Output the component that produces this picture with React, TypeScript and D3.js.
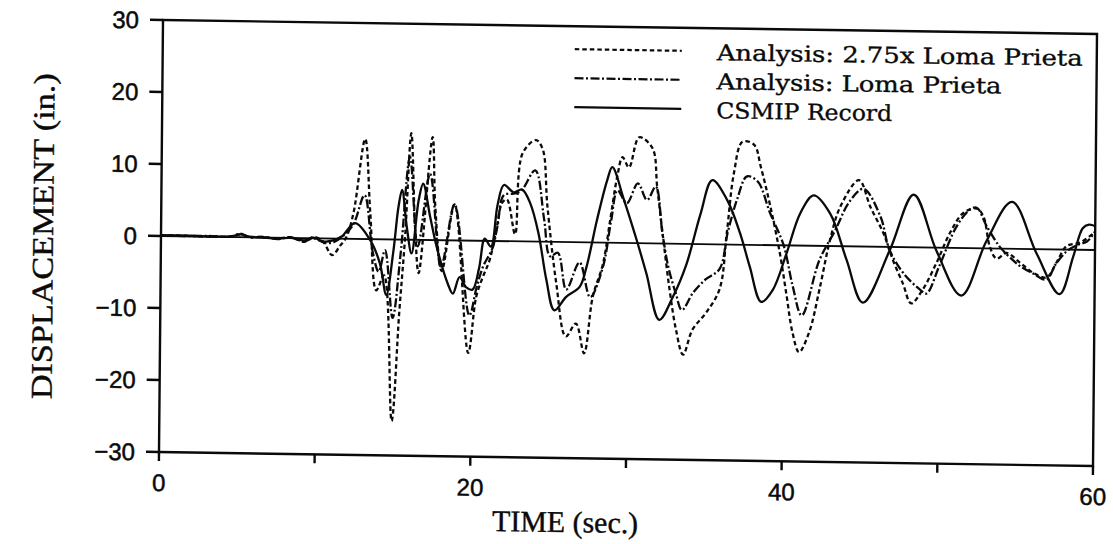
import React from 'react';
import * as d3 from 'd3';

const timeTicks = [0, 10, 20, 30, 40, 50, 60];
const timeLabels = [0, 20, 40, 60];
const dispTicks = [-30, -20, -10, 0, 10, 20, 30];

const analysis275: [number, number][] = [
  [0, 0.1], [1.5, 0.1], [3, 0], [4.5, 0.1], [5.1, 0.4], [5.7, 0], [6.5, 0.1], [7.5, -0.1], [8.3, 0.1], [9.2, -0.5],
  [9.8, 0.2], [10.4, -0.4], [11.0, -2.3], [11.5, -1.0], [11.9, 0.2], [12.35, 3.6], [13.06, 13.9], [13.43, 3.6],
  [13.86, -7.1], [14.35, -5.0], [14.92, -25.2], [15.35, -10], [15.67, 0], [16.02, 14.8], [16.32, 1.4], [16.57, -4.6],
  [17.39, 14.3], [17.6, 4.7], [18.05, -4.3], [18.84, 5.0], [19.8, -15.6], [20.28, -7.8], [20.7, -5], [21.13, -2.6],
  [21.57, 2], [21.89, 5.3], [22.2, 5.8], [22.74, 1.0], [23.17, 12.2], [24.03, 14.1], [24.46, 12.9], [24.8, 5.0],
  [25.42, -5.8], [26.06, -13.1], [26.7, -11.3], [27.24, -15.4], [27.77, -7.5], [28.4, -3.0], [28.84, 3.1], [29.27, 9.2],
  [29.6, 11.9], [30.02, 10.5], [30.66, 14.7], [31.52, 13.2], [31.84, 7.9], [32.27, 0.5], [32.7, -6.4], [33.13, -11.9],
  [33.6, -15.4], [34.19, -11.9], [35.06, -9.5], [35.91, -6.2], [36.34, 1.6], [36.76, 9.9], [37.3, 14.3], [38.05, 13.9],
  [38.48, 10.9], [39.12, 5.4], [39.76, -1.1], [40.19, -6.6], [40.62, -12.1], [41.05, -14.8], [41.69, -12], [42.33, -6.0],
  [42.97, 0.8], [43.62, 5.5], [44.8, 9.2], [45.55, 5.5], [46.4, 1.9], [47.04, -1.9], [47.69, -5.1], [48.22, -7.8],
  [48.97, -5.8], [49.83, -2.1], [50.68, 2.1], [51.54, 4.9], [52.4, 5.5], [52.82, 4.4], [53.25, 0.2], [53.68, -1.4],
  [54.33, -0.6], [55.18, -1.9], [56.04, -3.3], [56.9, -3.9], [57.54, -1.8], [58.18, 0.5], [59.04, 1.0], [59.89, 2.3],
  [60, 2.5],
];

const analysisLP: [number, number][] = [
  [0, 0.1], [1.5, 0.05], [3, 0.1], [4.5, 0.05], [5.1, 0.5], [5.7, 0], [6.5, 0.1], [7.5, -0.2], [8.3, 0.1], [9.2, -0.4],
  [9.8, 0], [10.5, -0.6], [11.1, -0.5], [11.7, 0.4], [12.35, 2.0], [13.05, 6.1], [13.6, -1.7], [14.0, -4.5],
  [14.4, -1.5], [14.92, -10.9], [15.4, -2], [15.95, 11.5], [16.5, -0.9], [17.25, 9.2], [18.0, -3.7], [18.84, 5.0],
  [19.85, -10.4], [20.3, -6.5], [20.7, -3.6], [21.3, -1.0], [21.6, 2.0], [22.0, 6.4], [22.6, 6.6], [23.1, 7.0],
  [24.0, 9.9], [24.6, 3.1], [25.0, -2.0], [25.5, -1.5], [26.06, -6.6], [26.9, -2.8], [27.6, -7.6], [28.4, -3.4],
  [28.9, 3], [29.3, 7.3], [29.9, 5.5], [30.6, 8.3], [31.2, 6.0], [31.75, 7.9], [32.2, 1.5], [32.6, -3.2], [33.1, -6.9],
  [33.5, -9.2], [34.2, -6.8], [35.0, -4.9], [35.9, -3.4], [36.4, 1.7], [37.0, 6.4], [37.6, 9.5], [38.3, 8.8],
  [39.1, 4.5], [40.0, 0], [40.6, -5.6], [41.2, -9.7], [42.3, -2.0], [43.3, 2.2], [44.2, 6.2], [45.1, 8.0], [46.2, 4.2],
  [46.8, -0.4], [47.7, -3.6], [48.8, -5.9], [49.2, -6.4], [50.0, -2.6], [51.1, 3.0], [51.97, 5.4], [52.4, 5.6],
  [53.0, 3.2], [53.9, 0.2], [54.75, -1.6], [55.2, -2.4], [56.04, -3.4], [56.9, -4.2], [57.5, -2.0], [58.2, -0.2],
  [58.8, 0.6], [59.5, 1.2], [60, 2.6],
];

const csmip: [number, number][] = [
  [0, 0.1], [1.5, 0.1], [3, 0.05], [4.5, 0.1], [5.1, 0.4], [5.7, 0.1], [6.5, 0], [7.5, -0.1], [8.3, 0], [9.2, -0.3],
  [9.8, 0.1], [10.4, -0.4], [11.0, -0.3], [11.6, 0.3], [12.46, 2.2], [13.43, -0.1], [14.07, -3.3], [14.5, -7.7],
  [14.92, -1.9], [15.24, 4.6], [15.46, 6.9], [15.78, 1.8], [16.1, -1.9], [16.53, 5.5], [16.81, 7.8], [17.28, 3.2],
  [17.71, -0.9], [18.46, -6.1], [18.78, -7.4], [19.2, -5.1], [19.64, -6.5], [20.04, -6.8], [20.45, -3.8], [20.8, 0.3],
  [21.2, -0.8], [21.6, 5.0], [22.0, 7.8], [22.63, 6.8], [23.17, 7.2], [23.7, 5.3], [24.24, 1.2], [24.78, -5.3],
  [25.31, -9.5], [26.06, -7.6], [26.92, -6.2], [27.35, -3.4], [27.99, 3.1], [28.63, 8.7], [28.95, 10.5], [29.7, 6.1],
  [30.56, 0.4], [31.2, -4.2], [32.05, -10.6], [32.91, -7.4], [33.77, -2.8], [34.63, 4.1], [35.38, 8.9], [36.34, 6.2],
  [37.19, 1.6], [37.83, -3.0], [38.59, -7.9], [39.33, -6.2], [40.19, -1.1], [41.05, 4.5], [41.9, 7.0], [42.97, 4.5],
  [44.05, -1.9], [45.12, -7.8], [46.83, -0.4], [48.33, 7.3], [49.83, -0.5], [51.44, -6.6], [53.04, 1.1], [54.65, 6.5],
  [56.25, -0.6], [57.75, -6.2], [58.6, -1.0], [59.2, 3.0], [59.6, 3.5], [60, 3.3],
];

const legendLabels = ['Analysis: 2.75x Loma Prieta', 'Analysis: Loma Prieta', 'CSMIP Record'];
const legendDashes = ['4.5,3', '9,2.5,2,2.5', 'none'];
const legendTextLengths = [366, 285, 176];

const W = 934;
const H = 432;

export default function App() {
  const x = d3.scaleLinear().domain([0, 60]).range([0, W]);
  const y = d3.scaleLinear().domain([-30, 30]).range([H, 0]);
  const line = d3
    .line<[number, number]>()
    .x((d) => x(d[0]))
    .y((d) => y(d[1]))
    .curve(d3.curveCatmullRom.alpha(0.5));

  const series = [
    { data: analysis275, dash: legendDashes[0] },
    { data: analysisLP, dash: legendDashes[1] },
    { data: csmip, dash: legendDashes[2] },
  ];
  const ink = '#0a0a0a';

  return (
    <svg
      width={1113}
      height={544}
      style={{ position: 'absolute', left: 0, top: 0, background: '#fff' }}
    >
      <rect x={0} y={0} width={1113} height={544} fill="#fff" />
      <g transform="matrix(1,0.015,-0.00926,1,163,20)">
        <line x1={0} x2={W} y1={y(0)} y2={y(0)} stroke={ink} strokeWidth={1.8} />
        {series.map((s, i) => (
          <path
            key={i}
            d={line(s.data) || ''}
            fill="none"
            stroke={ink}
            strokeWidth={2.3}
            strokeDasharray={s.dash === 'none' ? undefined : s.dash}
            strokeLinejoin="round"
          />
        ))}
        <rect x={0} y={0} width={W} height={H} fill="none" stroke={ink} strokeWidth={2.4} />
        {dispTicks.map((t) => (
          <g key={'y' + t}>
            <line x1={-13} x2={0} y1={y(t)} y2={y(t)} stroke={ink} strokeWidth={2.4} />
            <text
              x={-24}
              y={y(t)}
              dy="0.36em"
              textAnchor="end"
              fontFamily="Liberation Sans, Arial, sans-serif"
              fontSize={24}
              fill={ink}
              stroke={ink}
              strokeWidth={0.5}
            >
              {t < 0 ? '\u2212' + Math.abs(t) : String(t)}
            </text>
          </g>
        ))}
        {timeTicks.map((t) => (
          <line key={'x' + t} x1={x(t)} x2={x(t)} y1={H} y2={H + 9} stroke={ink} strokeWidth={2.4} />
        ))}
        {timeLabels.map((t) => (
          <text
            key={'xl' + t}
            x={x(t)}
            y={H + 39}
            textAnchor="middle"
            fontFamily="Liberation Sans, Arial, sans-serif"
            fontSize={24}
            fill={ink}
            stroke={ink}
            strokeWidth={0.5}
          >
            {t}
          </text>
        ))}
        <text
          x={W * 0.4355}
          y={506}
          textAnchor="middle"
          fontFamily="Liberation Serif, Times New Roman, serif"
          fontSize={30}
          textLength={146}
          lengthAdjust="spacingAndGlyphs"
          fill={ink}
          stroke={ink}
          strokeWidth={0.4}
        >
          TIME (sec.)
        </text>
        <text
          transform={`translate(-108,${H / 2 + 2}) rotate(-90)`}
          textAnchor="middle"
          fontFamily="Liberation Serif, Times New Roman, serif"
          fontSize={30}
          textLength={326}
          lengthAdjust="spacingAndGlyphs"
          fill={ink}
          stroke={ink}
          strokeWidth={0.4}
        >
          DISPLACEMENT (in.)
        </text>
        {legendLabels.map((lab, i) => (
          <g key={'lg' + i}>
            <line
              x1={412}
              x2={519}
              y1={23 + i * 29}
              y2={23 + i * 29}
              stroke={ink}
              strokeWidth={2.2}
              strokeDasharray={legendDashes[i] === 'none' ? undefined : legendDashes[i]}
            />
            <text
              x={554}
              y={32 + i * 29}
              fontFamily="DejaVu Serif, serif"
              fontSize={22}
              textLength={legendTextLengths[i]}
              lengthAdjust="spacingAndGlyphs"
              fill={ink}
              stroke={ink}
              strokeWidth={0.35}
            >
              {lab}
            </text>
          </g>
        ))}
      </g>
    </svg>
  );
}
